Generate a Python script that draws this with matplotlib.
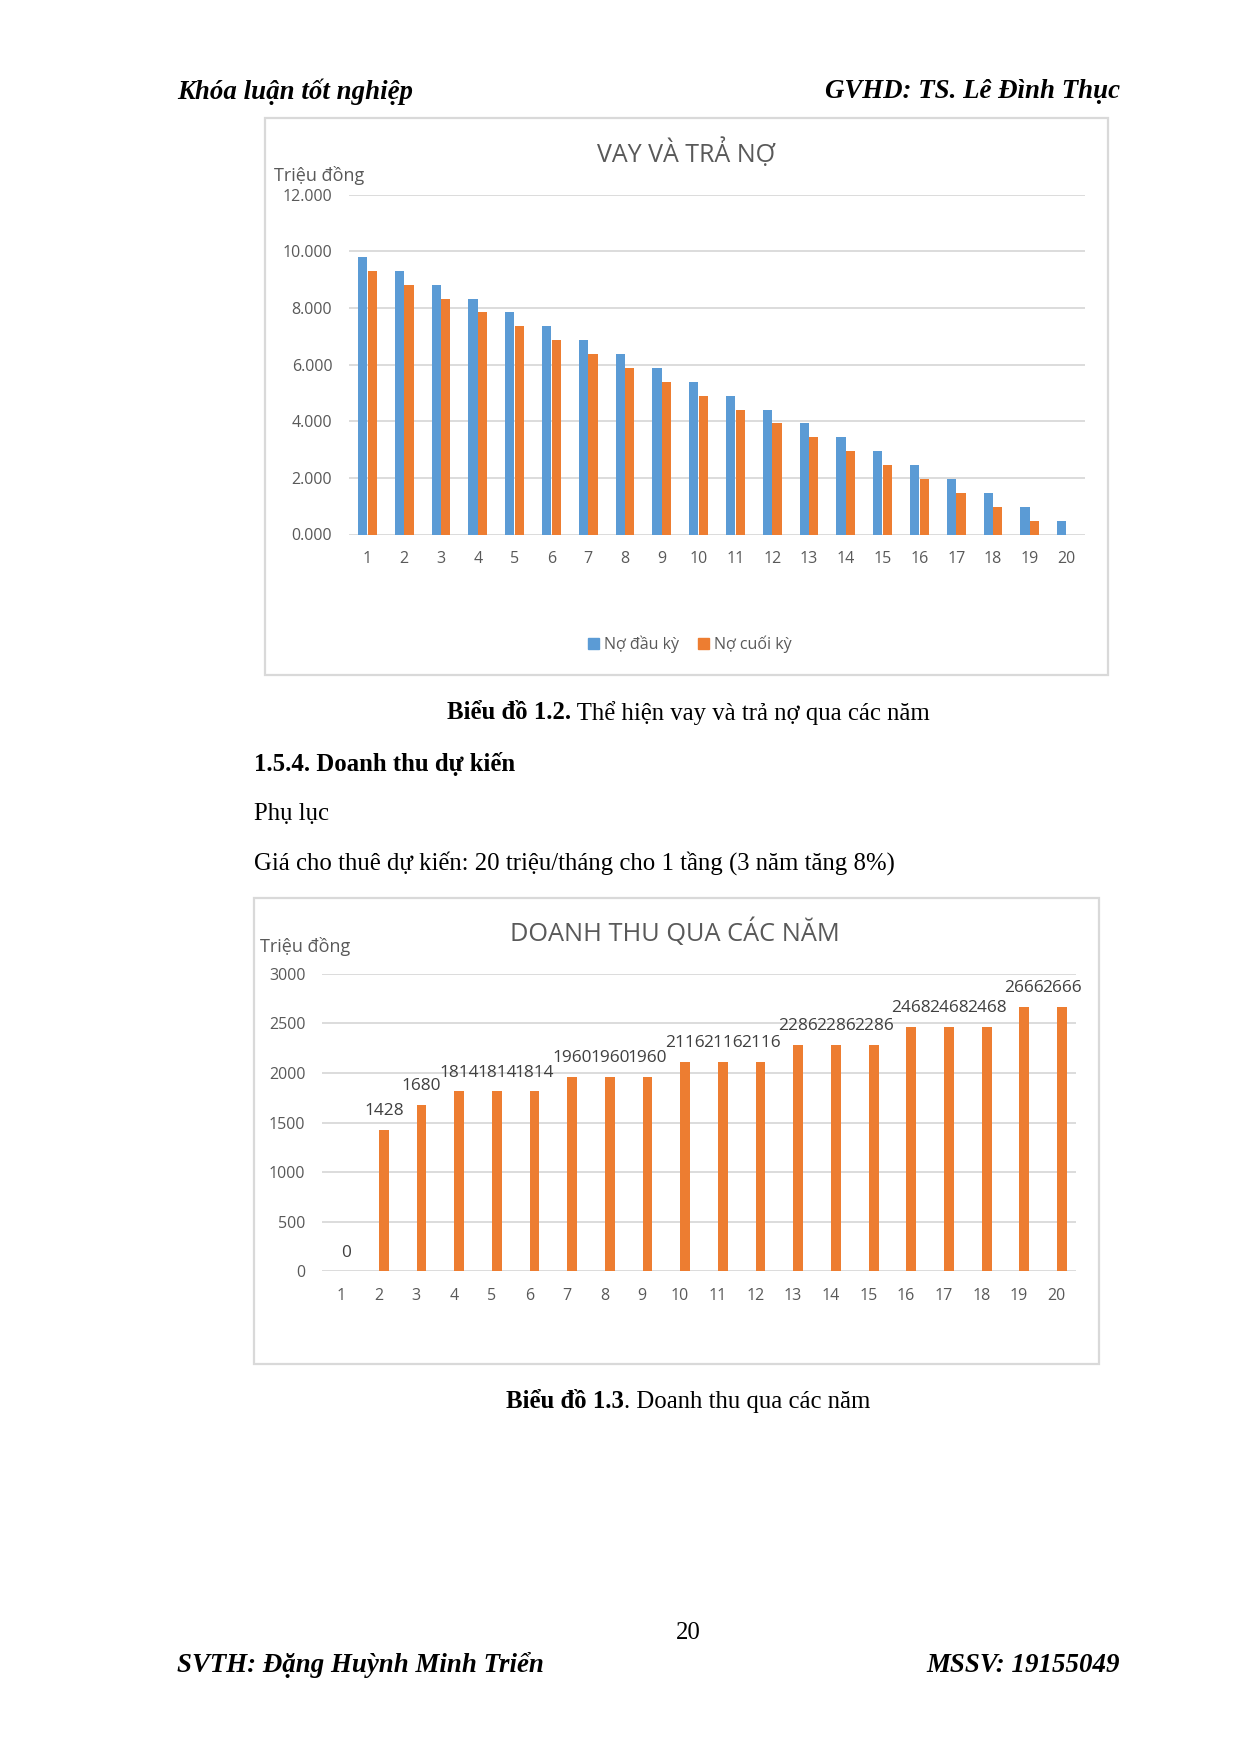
import numpy as np
import matplotlib.pyplot as plt
from matplotlib.patches import Rectangle, Patch

# page is 1240x1754 px, all positions below are in page pixels
W, H = 1240, 1754
BLUE = '#5B9BD5'
ORANGE = '#ED7D31'
GRID = '#D9D9D9'
TXT = '#595959'
SANS = ['Open Sans', 'DejaVu Sans']
SERIF = ['Liberation Serif', 'DejaVu Serif']

# chart 1: vay va tra no (trieu dong)
years = list(range(1, 21))
no_dau_ky = [9800, 9310, 8820, 8330, 7840, 7350, 6860, 6370, 5880, 5390,
             4900, 4410, 3920, 3430, 2940, 2450, 1960, 1470, 980, 490]
no_cuoi_ky = [9310, 8820, 8330, 7840, 7350, 6860, 6370, 5880, 5390, 4900,
              4410, 3920, 3430, 2940, 2450, 1960, 1470, 980, 490, 0]
yticks1 = [0, 2000, 4000, 6000, 8000, 10000, 12000]
ylabels1 = ['0.000', '2.000', '4.000', '6.000', '8.000', '10.000', '12.000']

# chart 2: doanh thu qua cac nam
doanh_thu_phu = [0, 0, 0, 0, 0, 0, 0, 0, 0, 0, 0, 0, 8, 8, 8, 8, 8, 8, 8, 8]
doanh_thu = [0, 1428, 1680, 1814, 1814, 1814, 1960, 1960, 1960, 2116,
             2116, 2116, 2286, 2286, 2286, 2468, 2468, 2468, 2666, 2666]
yticks2 = [0, 500, 1000, 1500, 2000, 2500, 3000]


def fx(x):
    return x / W


def fy(y):
    return 1 - y / H


fig = plt.figure(figsize=(W / 100, H / 100), dpi=100)
fig.patch.set_facecolor('white')


def frame(x0, y0, x1, y1):
    fig.patches.append(Rectangle((fx(x0), fy(y1)), fx(x1) - fx(x0), fy(y0) - fy(y1),
                                 transform=fig.transFigure, fill=False,
                                 ec=GRID, lw=1.6))


def style_axes(ax, ymax, yticks, ylabels):
    ax.set_xlim(0.5, 20.5)
    ax.set_ylim(0, ymax)
    for s in ax.spines.values():
        s.set_visible(False)
    ax.set_yticks(yticks)
    ax.set_yticklabels(ylabels)
    ax.set_xticks(years)
    ax.tick_params(length=0, labelsize=11.5, labelcolor=TXT, pad=12)
    for lab in ax.get_xticklabels() + ax.get_yticklabels():
        lab.set_family(SANS)
    ax.yaxis.grid(True, color=GRID, lw=1.3)
    ax.set_axisbelow(True)


# ---------------- chart 1 ----------------
frame(265, 118, 1108, 675)
ax1 = fig.add_axes([fx(349), fy(534.5), fx(1085) - fx(349), fy(194.6) - fy(534.5)])
x = np.array(years)
ax1.bar(x - 0.13, no_dau_ky, width=0.25, color=BLUE, label='Nợ đầu kỳ')
ax1.bar(x + 0.13, no_cuoi_ky, width=0.25, color=ORANGE, label='Nợ cuối kỳ')
style_axes(ax1, 12000, yticks1, ylabels1)
fig.text(fx(686), fy(153), 'VAY VÀ TRẢ NỢ', ha='center', va='center',
         fontsize=18, color=TXT, family=SANS)
fig.text(fx(274), fy(175.5), 'Triệu đồng', ha='left', va='center',
         fontsize=13, color=TXT, family=SANS)
fig.legend(handles=[Patch(color=BLUE, label='Nợ đầu kỳ'),
                    Patch(color=ORANGE, label='Nợ cuối kỳ')],
           loc='center', bbox_to_anchor=(fx(690), fy(644)), ncol=2, frameon=False,
           handlelength=0.7, handleheight=0.7, handletextpad=0.3, columnspacing=1.2,
           prop={'family': SANS, 'size': 11.5}, labelcolor=TXT)

# ---------------- chart 2 ----------------
frame(254, 898, 1099, 1364)
ax2 = fig.add_axes([fx(322), fy(1271.3), fx(1075.6) - fx(322), fy(973.9) - fy(1271.3)])
ax2.bar(x - 0.14, doanh_thu_phu, width=0.26, color=BLUE)
bars = ax2.bar(x + 0.14, doanh_thu, width=0.26, color=ORANGE)
style_axes(ax2, 3000, yticks2, [str(v) for v in yticks2])
for b, v in zip(bars, doanh_thu):
    ax2.annotate(str(v), (b.get_x() + b.get_width() / 2, v), xytext=(0, 13.5),
                 textcoords='offset points', ha='center', va='center',
                 fontsize=12.4, color='#404040', family=SANS)
fig.text(fx(675), fy(932.5), 'DOANH THU QUA CÁC NĂM', ha='center', va='center',
         fontsize=18.3, color=TXT, family=SANS)
fig.text(fx(260.5), fy(946), 'Triệu đồng', ha='left', va='center',
         fontsize=13, color=TXT, family=SANS)

# ---------------- page text ----------------
BODY = 17.8
HEAD = 19.4
renderer = fig.canvas.get_renderer()


def mixed_line(parts, xc, y):
    # parts: list of (text, weight); centred on xc
    texts = [fig.text(0, fy(y), s, fontweight=w, fontsize=BODY, family=SERIF,
                      va='center', ha='left') for s, w in parts]
    widths = [t.get_window_extent(renderer).width for t in texts]
    left = xc - sum(widths) / 2
    for t, w in zip(texts, widths):
        t.set_x(fx(left))
        left += w


def page_text(x, y, s, ha='left', weight='normal', style='normal', size=BODY):
    fig.text(fx(x), fy(y), s, ha=ha, va='center', fontsize=size, family=SERIF,
             fontweight=weight, fontstyle=style)


page_text(177, 92, 'Khóa luận tốt nghiệp', weight='bold', style='italic', size=HEAD)
page_text(1120, 92, 'GVHD: TS. Lê Đình Thục', ha='right', weight='bold', style='italic', size=HEAD)
mixed_line([('Biểu đồ 1.2.', 'bold'), (' Thể hiện vay và trả nợ qua các năm', 'normal')], 688, 713)
page_text(254, 764, '1.5.4. Doanh thu dự kiến', weight='bold')
page_text(254, 814, 'Phụ lục')
page_text(254, 863, 'Giá cho thuê dự kiến: 20 triệu/tháng cho 1 tầng (3 năm tăng 8%)')
mixed_line([('Biểu đồ 1.3', 'bold'), ('. Doanh thu qua các năm', 'normal')], 688, 1402)
page_text(688, 1633, '20', ha='center')
page_text(177, 1665, 'SVTH: Đặng Huỳnh Minh Triển', weight='bold', style='italic', size=HEAD)
page_text(1120, 1665, 'MSSV: 19155049', ha='right', weight='bold', style='italic', size=HEAD)

fig.savefig('out.png', dpi=100)
